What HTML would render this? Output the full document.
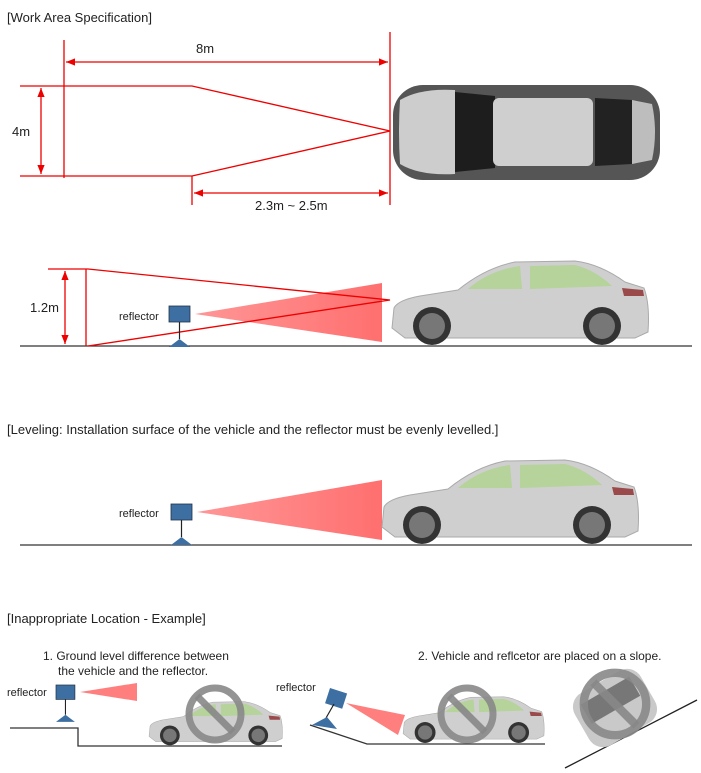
<!DOCTYPE html>
<html><head><meta charset="utf-8"><style>
html,body{margin:0;padding:0;background:#fff;}
svg{display:block;font-family:"Liberation Sans",sans-serif;}
</style></head><body>
<svg width="701" height="773" viewBox="0 0 701 773" xmlns="http://www.w3.org/2000/svg">
<defs>
<marker id="ar" viewBox="0 0 10 10" refX="10" refY="5" markerWidth="7" markerHeight="7" orient="auto-start-reverse"><path d="M0,1 L10,5 L0,9 Z" fill="#e00"/></marker>
<linearGradient id="beam" x1="0" x2="1"><stop offset="0" stop-color="#ff8a8a" stop-opacity="0.9"/><stop offset="1" stop-color="#ff6f6f"/></linearGradient>
<g id="car">
<path d="M2,72 L4,52 Q8,44 30,40 L68,34 Q95,12 125,6 L185,5 Q210,8 235,26 L254,32 Q260,48 258,76 L245,82 L15,82 Z" fill="#cfcfcf" stroke="#aaa" stroke-width="1"/>
<path d="M78,33 Q100,14 130,10 L132,33 Z" fill="#b5d39a"/>
<path d="M140,10 L185,9 Q205,14 222,30 L140,33 Z" fill="#b5d39a"/>
<path d="M232,32 L253,34 L254,40 L234,40 Z" fill="#9a4a4a"/>
<circle cx="42" cy="70" r="19" fill="#333"/><circle cx="42" cy="70" r="13" fill="#777"/>
<circle cx="212" cy="70" r="19" fill="#333"/><circle cx="212" cy="70" r="13" fill="#777"/>
</g>
<g id="no"><circle cx="0" cy="0" r="26" fill="none" stroke="#888" stroke-width="7" opacity="0.9"/><line x1="-18" y1="-18" x2="18" y2="18" stroke="#888" stroke-width="7" opacity="0.9"/></g>
<g id="refl"><rect x="0" y="0" width="21" height="16" fill="#3d6fa3" stroke="#234" stroke-width="0.8"/><line x1="10.5" y1="16" x2="10.5" y2="33" stroke="#222" stroke-width="1.2"/><path d="M0,41 L10.5,33 L21,41 Z" fill="#3d6fa3"/></g>
</defs>

<text x="7" y="22" font-size="13" fill="#222">[Work Area Specification]</text>
<g stroke="#e00" stroke-width="1.3" fill="none">
<line x1="64" y1="40" x2="64" y2="178"/>
<line x1="390" y1="32" x2="390" y2="205"/>
<line x1="66" y1="62" x2="388" y2="62" marker-start="url(#ar)" marker-end="url(#ar)"/>
<polyline points="20,86 192,86 390,131 192,176 20,176"/>
<line x1="192" y1="176" x2="192" y2="205"/>
<line x1="41" y1="88" x2="41" y2="174" marker-start="url(#ar)" marker-end="url(#ar)"/>
<line x1="194" y1="193" x2="388" y2="193" marker-start="url(#ar)" marker-end="url(#ar)"/>
</g>
<text x="196" y="53" font-size="13" fill="#222">8m</text>
<text x="12" y="136" font-size="13" fill="#222">4m</text>
<text x="255" y="210" font-size="13" fill="#222">2.3m ~ 2.5m</text>
<rect x="393" y="85" width="267" height="95" rx="30" fill="#555"/>
<path d="M400,100 Q398,132 400,164 Q420,176 455,174 L455,90 Q420,88 400,100 Z" fill="#cdcdcd"/>
<path d="M455,92 L495,96 L495,168 L455,172 Z" fill="#1d1d1d"/>
<rect x="493" y="98" width="100" height="68" rx="6" fill="#cfcfcf"/>
<path d="M595,98 L632,100 L632,164 L595,166 Z" fill="#222"/>
<path d="M632,100 L652,104 Q658,132 652,160 L632,164 Z" fill="#bdbdbd"/>

<line x1="20" y1="346" x2="692" y2="346" stroke="#333" stroke-width="1.3"/>
<path d="M195,314 L382,283 L382,342 Z" fill="url(#beam)"/>
<g stroke="#e00" stroke-width="1.3" fill="none">
<polyline points="48,269 88,269 390,300 88,346"/>
<line x1="86" y1="269" x2="86" y2="346"/>
<line x1="65" y1="271" x2="65" y2="344" marker-start="url(#ar)" marker-end="url(#ar)"/>
</g>
<text x="30" y="312" font-size="13" fill="#222">1.2m</text>
<text x="119" y="320" font-size="11" fill="#222">reflector</text>
<use href="#refl" x="169" y="306"/>
<use href="#car" x="390" y="256"/>

<text x="7" y="434" font-size="13" fill="#222">[Leveling: Installation surface of the vehicle and the reflector must be evenly levelled.]</text>
<line x1="20" y1="545" x2="692" y2="545" stroke="#333" stroke-width="1.3"/>
<path d="M197,512 L382,480 L382,540 Z" fill="url(#beam)"/>
<text x="119" y="517" font-size="11" fill="#222">reflector</text>
<use href="#refl" x="171" y="504"/>
<use href="#car" x="380" y="455"/>

<text x="7" y="623" font-size="13" fill="#222">[Inappropriate Location - Example]</text>
<text x="43" y="660" font-size="12" fill="#222">1. Ground level difference between</text>
<text x="58" y="675" font-size="12" fill="#222">the vehicle and the reflector.</text>
<text x="418" y="660" font-size="12" fill="#222">2. Vehicle and reflcetor are placed on a slope.</text>
<polyline points="10,728 78,728 78,746 282,746" fill="none" stroke="#333" stroke-width="1.3"/>
<text x="7" y="696" font-size="11" fill="#222">reflector</text>
<g transform="translate(56,685) scale(0.9)"><use href="#refl"/></g>
<path d="M80,692 L137,683 L137,701 Z" fill="#ff7f7f"/>
<g transform="translate(148,699) scale(0.52)"><use href="#car"/></g>
<use href="#no" x="215" y="714"/>
<polyline points="310,725 367,744 545,744" fill="none" stroke="#333" stroke-width="1.3"/>
<text x="276" y="691" font-size="11" fill="#222">reflector</text>
<g transform="translate(330,688) rotate(18)"><rect x="0" y="0" width="18" height="16" fill="#3d6fa3"/></g>
<line x1="334" y1="704" x2="326" y2="718" stroke="#222" stroke-width="1.2"/>
<path d="M312,725 L327,717 L337,729 Z" fill="#3d6fa3"/>
<path d="M346,703 L405,715 L398,735 Z" fill="#ff7f7f"/>
<g transform="translate(402,694) scale(0.55)"><use href="#car"/></g>
<use href="#no" x="467" y="714"/>
<line x1="565" y1="768" x2="697" y2="700" stroke="#222" stroke-width="1.3"/>
<g transform="translate(615,708) rotate(-30)"><rect x="-38" y="-30" width="76" height="60" rx="16" fill="#c9c9c9"/><rect x="-28" y="-20" width="56" height="22" fill="#777"/></g>
<g transform="translate(615,704) scale(1.2)"><use href="#no"/></g>
</svg>
</body></html>
